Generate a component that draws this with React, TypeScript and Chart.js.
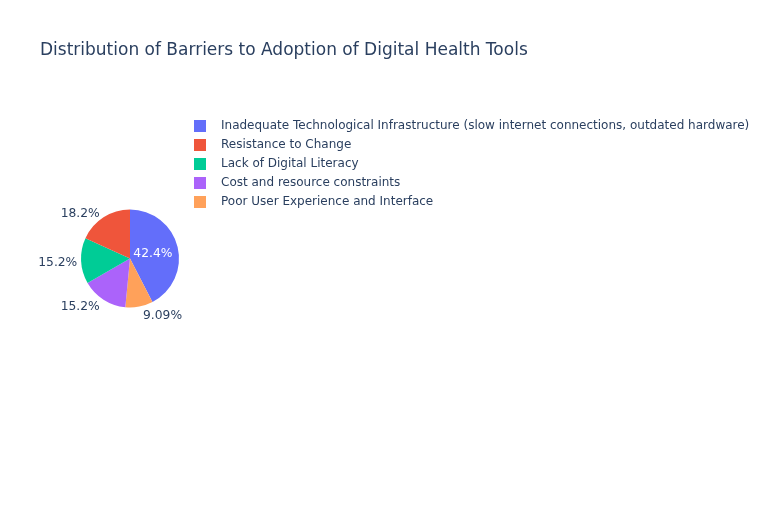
import { useEffect, useRef } from "react";
import { Chart, registerables } from "chart.js";

Chart.register(...registerables);

const titleText = "Distribution of Barriers to Adoption of Digital Health Tools";
const categories = [
  "Inadequate Technological Infrastructure (slow internet connections, outdated hardware)",
  "Resistance to Change",
  "Lack of Digital Literacy",
  "Cost and resource constraints",
  "Poor User Experience and Interface",
];
const counts = [14, 6, 5, 5, 3];
const colors = ["#636efa", "#ef553b", "#00cc96", "#ab63fa", "#ffa15a"];
// clockwise drawing order of the slices, starting at 12 o'clock
const drawOrder = [0, 4, 3, 2, 1];

const FONT = '"DejaVu Sans", Verdana, sans-serif';
const TEXT_COLOR = "#2a3f5f";

function legendSwatch(color: string) {
  const c = document.createElement("canvas");
  c.width = 29;
  c.height = 12;
  const g = c.getContext("2d")!;
  g.fillStyle = color;
  g.fillRect(8, 0, 12, 12);
  return c;
}

// let the legend text run to the right edge of the canvas instead of being clipped
const widenLegend = {
  id: "widenLegend",
  afterLayout(chart: any) {
    const lg = chart.legend;
    if (lg) {
      lg.right = chart.width;
      lg.width = lg.right - lg.left;
    }
  },
};

const percentLabels = {
  id: "percentLabels",
  afterDatasetsDraw(chart: any) {
    const ctx = chart.ctx as CanvasRenderingContext2D;
    const meta = chart.getDatasetMeta(0);
    const values = chart.data.datasets[0].data as number[];
    const total = values.reduce((a, b) => a + b, 0);
    ctx.save();
    ctx.font = `12.3px ${FONT}`;
    ctx.textAlign = "center";
    ctx.textBaseline = "middle";
    meta.data.forEach((arc: any, i: number) => {
      const { x, y, startAngle, endAngle, outerRadius } = arc.getProps(
        ["x", "y", "startAngle", "endAngle", "outerRadius"],
        true
      );
      const frac = values[i] / total;
      const text = `${(frac * 100).toPrecision(3)}%`;
      const mid = (startAngle + endAngle) / 2;
      const w = ctx.measureText(text).width;
      const h = 15;
      const span = endAngle - startAngle;
      const insideR = outerRadius * 0.48;
      if (span * insideR > w + 8) {
        ctx.fillStyle = "#ffffff";
        ctx.fillText(text, x + Math.cos(mid) * insideR, y + Math.sin(mid) * insideR + 1);
      } else {
        const px = Math.cos(mid) * outerRadius;
        const py = Math.sin(mid) * outerRadius;
        let dx = w / 2;
        let dy = h / 2;
        if (px < 0) dx = -dx;
        if (py < 0) dy = -dy;
        const ox = dx + (Math.abs(dy) * (dx > 0 ? 1 : -1)) / 2;
        const oy = Math.abs(py) < 1e-6 ? 0 : dy / (1 + (px * px) / (py * py));
        ctx.fillStyle = TEXT_COLOR;
        ctx.fillText(text, x + px + ox, y + py + oy + 1.5);
      }
    });
    ctx.restore();
  },
};

export default function App() {
  const ref = useRef<HTMLCanvasElement | null>(null);
  useEffect(() => {
    if (!ref.current) return;
    const chart = new Chart(ref.current, {
      type: "pie",
      data: {
        labels: drawOrder.map((i) => categories[i]),
        datasets: [
          {
            data: drawOrder.map((i) => counts[i]),
            backgroundColor: drawOrder.map((i) => colors[i]),
            borderWidth: 0,
            hoverOffset: 0,
          },
        ],
      },
      options: {
        responsive: false,
        animation: false,
        events: [],
        devicePixelRatio: 1,
        layout: { padding: { left: 81, right: 495, top: 113, bottom: 121 } },
        plugins: {
          title: { display: false },
          tooltip: { enabled: false },
          legend: {
            position: "right",
            align: "start",
            labels: {
              usePointStyle: true,
              pointStyleWidth: 29,
              padding: 7,
              color: TEXT_COLOR,
              font: { family: FONT, size: 12 },
              generateLabels: () =>
                categories.map((c, i) => ({
                  text: c,
                  fillStyle: colors[i],
                  strokeStyle: colors[i],
                  lineWidth: 0,
                  pointStyle: legendSwatch(colors[i]),
                  hidden: false,
                  index: drawOrder.indexOf(i),
                  fontColor: TEXT_COLOR,
                })),
            },
          },
        },
      } as any,
      plugins: [widenLegend, percentLabels],
    });
    return () => chart.destroy();
  }, []);
  return (
    <div
      style={{
        position: "fixed",
        left: 0,
        top: 0,
        width: 772,
        height: 525,
        background: "#ffffff",
      }}
    >
      <canvas
        ref={ref}
        width={772}
        height={525}
        style={{ position: "absolute", left: 0, top: 0 }}
      />
      <div
        style={{
          position: "absolute",
          left: 40,
          top: 39,
          font: `17px ${FONT}`,
          color: TEXT_COLOR,
          lineHeight: "normal",
          whiteSpace: "nowrap",
        }}
      >
        {titleText}
      </div>
    </div>
  );
}
